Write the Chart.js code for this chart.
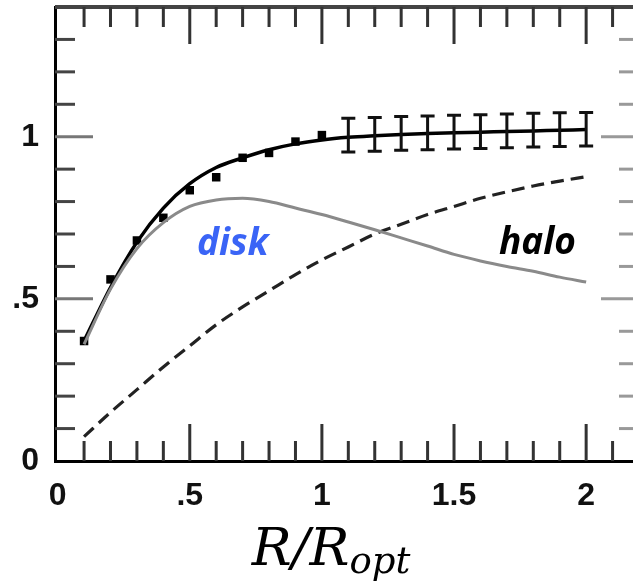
<!DOCTYPE html>
<html>
<head>
<meta charset="utf-8">
<script src="https://cdn.jsdelivr.net/npm/chart.js@4.4.1/dist/chart.umd.min.js"></script>
<style>
  html, body { margin: 0; padding: 0; background: #fff; }
  #wrap { width: 633px; height: 583px; position: relative; overflow: hidden; }
</style>
</head>
<body>
<div id="wrap"><canvas id="rc" width="645" height="583"></canvas></div>
<script>
// radius grid for the model curves (R / R_opt)
const radius = [0.1, 0.2, 0.3, 0.4, 0.5, 0.6, 0.7, 0.8, 0.9, 1.0,
                1.1, 1.2, 1.3, 1.4, 1.5, 1.6, 1.7, 1.8, 1.9, 2.0];
const totalCurve = [0.37, 0.535, 0.675, 0.78, 0.855, 0.905, 0.935, 0.96, 0.978, 0.99,
                    0.998, 1.003, 1.007, 1.01, 1.012, 1.014, 1.016, 1.018, 1.02, 1.022];
const diskCurve = [0.36, 0.53, 0.655, 0.735, 0.785, 0.805, 0.81, 0.80, 0.78, 0.76,
                   0.737, 0.713, 0.688, 0.663, 0.637, 0.617, 0.60, 0.585, 0.567, 0.552];
const haloCurve = [0.075, 0.15, 0.22, 0.29, 0.355, 0.42, 0.475, 0.525, 0.575, 0.62,
                   0.66, 0.70, 0.73, 0.76, 0.785, 0.81, 0.83, 0.848, 0.863, 0.877];

// observed points (inner part)
const obsR = [0.1, 0.2, 0.3, 0.4, 0.5, 0.6, 0.7, 0.8, 0.9, 1.0];
const obsV = [0.37, 0.56, 0.68, 0.75, 0.835, 0.875, 0.935, 0.95, 0.985, 1.005];

// outer points with error bars
const errR = [1.1, 1.2, 1.3, 1.4, 1.5, 1.6, 1.7, 1.8, 1.9, 2.0];
const errV = [1.005, 1.007, 1.01, 1.012, 1.014, 1.016, 1.018, 1.02, 1.022, 1.023];
const errSize = [0.052, 0.052, 0.052, 0.052, 0.052, 0.052, 0.052, 0.052, 0.052, 0.052];

const xTickValues = [0, 0.5, 1, 1.5, 2];
const xTickLabels = ['0', '.5', '1', '1.5', '2'];
const yTickValues = [0, 0.5, 1];
const yTickLabels = ['0', '.5', '1'];

const labelFont = { family: 'Liberation Sans', size: 32, weight: 'bold' };

const pts = (xs, ys) => xs.map((x, i) => ({ x: x, y: ys[i] }));

const noPad = s => {
  s.paddingTop = 0; s.paddingBottom = 0; s.paddingLeft = 0; s.paddingRight = 0;
};

// inward tick marks on all four sides
const frameTicks = {
  id: 'frameTicks',
  beforeDatasetsDraw(chart) {
    const { ctx, chartArea: a, scales: { x, y } } = chart;
    ctx.save();
    // top border
    ctx.strokeStyle = '#444';
    ctx.lineWidth = 4;
    ctx.beginPath();
    ctx.moveTo(a.left, a.top);
    ctx.lineTo(a.right, a.top);
    ctx.stroke();
    ctx.lineWidth = 3;
    for (let k = 1; k <= 21; k++) {
      const v = k / 10;
      const px = x.getPixelForValue(v);
      const len = (k % 5 === 0) ? 37 : 20;
      ctx.strokeStyle = '#333';
      ctx.beginPath();
      ctx.moveTo(px, a.bottom);
      ctx.lineTo(px, a.bottom - len);
      ctx.moveTo(px, a.top);
      ctx.lineTo(px, a.top + len);
      ctx.stroke();
    }
    for (let k = 1; k <= 13; k++) {
      const v = k / 10;
      const py = y.getPixelForValue(v);
      const len = (k % 5 === 0) ? 38 : 20;
      ctx.strokeStyle = (k % 5 === 0) ? '#777' : '#444';
      ctx.beginPath();
      ctx.moveTo(a.left, py);
      ctx.lineTo(a.left + len, py);
      ctx.stroke();
      ctx.strokeStyle = '#999';
      ctx.beginPath();
      ctx.moveTo(a.right, py);
      ctx.lineTo(a.right - len, py);
      ctx.stroke();
    }
    // right border
    ctx.strokeStyle = '#999';
    ctx.beginPath();
    ctx.moveTo(a.right, a.top);
    ctx.lineTo(a.right, a.bottom);
    ctx.stroke();
    ctx.restore();
  }
};

// error bars for the outer points
const errorBars = {
  id: 'errorBars',
  afterDatasetsDraw(chart) {
    const { ctx, scales: { x, y } } = chart;
    ctx.save();
    ctx.strokeStyle = '#111';
    ctx.lineWidth = 3;
    errR.forEach((r, i) => {
      const px = x.getPixelForValue(r);
      const top = y.getPixelForValue(errV[i] + errSize[i]);
      const bot = y.getPixelForValue(errV[i] - errSize[i]);
      ctx.beginPath();
      ctx.moveTo(px, top);
      ctx.lineTo(px, bot);
      ctx.moveTo(px - 7, top);
      ctx.lineTo(px + 7, top);
      ctx.moveTo(px - 7, bot);
      ctx.lineTo(px + 7, bot);
      ctx.stroke();
    });
    ctx.restore();
  }
};

// curve names and axis title
const annotations = {
  id: 'annotations',
  afterDraw(chart) {
    const { ctx } = chart;
    ctx.save();
    ctx.textBaseline = 'alphabetic';
    ctx.textAlign = 'left';
    ctx.font = 'italic bold 37px "Open Sans"';
    ctx.fillStyle = '#3a64f6';
    ctx.fillText('disk', 197, 255);
    ctx.fillStyle = '#000';
    ctx.fillText('halo', 499, 254);

    const big = 'italic 53px "DejaVu Serif"';
    const small = 'italic 37px "DejaVu Serif"';
    ctx.font = big;
    const w1 = ctx.measureText('R/R').width;
    ctx.font = small;
    const w2 = ctx.measureText('opt').width;
    let sx = 331 - (w1 + w2) / 2;
    ctx.fillStyle = '#000';
    ctx.font = big;
    ctx.fillText('R/R', sx, 565);
    ctx.font = small;
    ctx.fillText('opt', sx + w1, 573);
    ctx.restore();
  }
};

new Chart(document.getElementById('rc'), {
  type: 'line',
  data: {
    datasets: [
      {
        label: 'disk',
        data: pts(radius, diskCurve),
        borderColor: '#8a8a8a',
        borderWidth: 3,
        pointRadius: 0,
        cubicInterpolationMode: 'monotone',
        fill: false
      },
      {
        label: 'halo',
        data: pts(radius, haloCurve),
        borderColor: '#222',
        borderWidth: 3.2,
        borderDash: [13, 7],
        pointRadius: 0,
        cubicInterpolationMode: 'monotone',
        fill: false
      },
      {
        label: 'total',
        data: pts(radius, totalCurve),
        borderColor: '#000',
        borderWidth: 3.5,
        pointRadius: 0,
        cubicInterpolationMode: 'monotone',
        fill: false
      },
      {
        label: 'observed',
        data: pts(obsR, obsV),
        showLine: false,
        pointStyle: 'rect',
        pointRadius: 6,
        backgroundColor: '#000',
        borderColor: '#000',
        borderWidth: 0
      }
    ]
  },
  options: {
    responsive: false,
    animation: false,
    layout: { padding: { top: 7, right: 5, left: 0, bottom: 0 } },
    plugins: { legend: { display: false }, tooltip: { enabled: false } },
    scales: {
      x: {
        type: 'linear',
        min: -0.01,
        max: 2.2,
        afterFit: s => { s.height = 122; noPad(s); },
        afterBuildTicks: s => { s.ticks = xTickValues.map(v => ({ value: v })); },
        grid: { display: false, drawTicks: false },
        border: { display: true, color: '#000', width: 3 },
        ticks: {
          padding: 16,
          maxRotation: 0,
          autoSkip: false,
          color: '#111',
          font: labelFont,
          callback: (v, i) => xTickLabels[i]
        }
      },
      y: {
        min: 0,
        max: 1.4,
        afterFit: s => { s.width = 55; noPad(s); },
        afterBuildTicks: s => { s.ticks = yTickValues.map(v => ({ value: v })); },
        grid: { display: false, drawTicks: false },
        border: { display: true, color: '#000', width: 3 },
        ticks: {
          padding: 16,
          autoSkip: false,
          color: '#111',
          font: labelFont,
          callback: (v, i) => yTickLabels[i]
        }
      }
    }
  },
  plugins: [frameTicks, errorBars, annotations]
});
</script>
</body>
</html>
